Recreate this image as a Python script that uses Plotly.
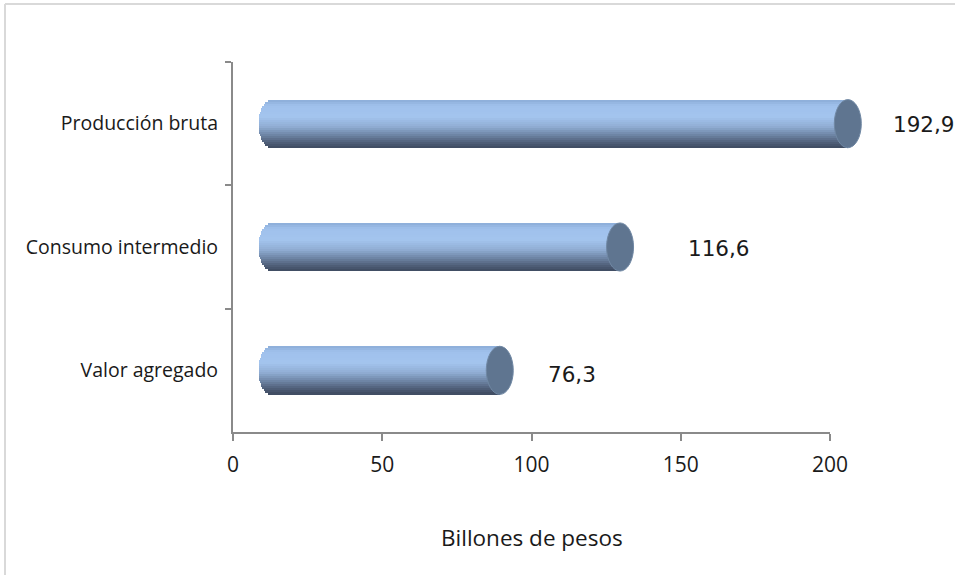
import numpy as np
import plotly.graph_objects as go

# ---- data ----
categories = ["Producción bruta", "Consumo intermedio", "Valor agregado"]
values = [192.9, 116.6, 76.3]
value_labels = ["192,9", "116,6", "76,3"]
x_tick_vals = [0, 50, 100, 150, 200]
x_tick_text = ["0", "50", "100", "150", "200"]
axis_title = "Billones de pesos"

# ---- style ----
W, H = 955, 575
ML, MR, MT, MB = 233, 0, 62, 143
axis_right_px = 830                      # where the value axis ends
x_range = [0, 200]
plot_w = W - ML - MR
axis_w = axis_right_px - ML
px_per_unit = axis_w / (x_range[1] - x_range[0])
depth_px = 39                            # 3D depth offset of the cylinders
depth_units = depth_px / px_per_unit
bar_range0 = x_range[0] - depth_units
bar_range1 = bar_range0 + plot_w / px_per_unit
bar_half = 0.195                         # half thickness in category units
cap_half_px = 13.5
cap_half = cap_half_px / px_per_unit
label_xshift = [43, 66, 46]
label_yshift = [-1, -1, -4]
FONT = "Open Sans"
LABEL_FONT = "DejaVu Sans"
TXT = "#1a1a1a"
AX = "#8a8a8a"

# gradient stops (top -> bottom)
stops = [(0.00, (140, 172, 216)), (0.12, (160, 193, 236)), (0.35, (163, 196, 238)),
         (0.55, (145, 174, 212)), (0.72, (112, 135, 168)), (0.88, (80, 96, 122)),
         (1.00, (62, 74, 95))]


def grad(t):
    for (a, ca), (b, cb) in zip(stops[:-1], stops[1:]):
        if a <= t <= b:
            f = (t - a) / (b - a)
            c = [int(round(ca[k] + (cb[k] - ca[k]) * f)) for k in range(3)]
            return "rgb(%d,%d,%d)" % tuple(c)
    return "rgb(%d,%d,%d)" % stops[-1][1]


fig = go.Figure()
N = 24
slice_w = 2 * bar_half / N
for k in range(N):
    tmid = -1 + (k + 0.5) * 2 / N
    round_in = cap_half * np.sqrt(max(0.0, 1 - tmid ** 2))
    bases = [-round_in for _ in values]
    lengths = [v + round_in for v in values]
    fig.add_trace(go.Bar(
        y=categories, x=lengths, base=bases, orientation="h",
        xaxis="x", yaxis="y",
        width=slice_w * 1.08, offset=-bar_half + k * slice_w,
        marker=dict(color=grad((k + 0.5) / N), line=dict(width=0)),
        hoverinfo="skip", showlegend=False,
    ))

# invisible trace so that the value axis (x2) is drawn
fig.add_trace(go.Scatter(x=values, y=categories, xaxis="x2", yaxis="y",
                         mode="markers", marker=dict(opacity=0),
                         hoverinfo="skip", showlegend=False))

shapes = []
for i, v in enumerate(values):
    shapes.append(dict(type="circle", xref="x", yref="y",
                       x0=v - cap_half, x1=v + cap_half,
                       y0=i - bar_half, y1=i + bar_half,
                       fillcolor="#5f7590", line=dict(color="#7088a4", width=1),
                       layer="above"))
# chart frame (Excel style border)
ph = H - MT - MB
fx0 = (5 - ML) / plot_w
fy0 = (H - MB - 4) / ph
shapes.append(dict(type="line", xref="paper", yref="paper",
                   x0=fx0, x1=(W + 5 - ML) / plot_w, y0=fy0, y1=fy0,
                   line=dict(color="#d9d9d9", width=2)))
shapes.append(dict(type="line", xref="paper", yref="paper",
                   x0=fx0, x1=fx0, y0=fy0, y1=-MB / ph - 0.1,
                   line=dict(color="#d9d9d9", width=2)))

annotations = []
for i, (v, lab) in enumerate(zip(values, value_labels)):
    annotations.append(dict(xref="x", yref="y", x=v, y=i, text=lab,
                            showarrow=False, xanchor="left", yanchor="middle",
                            xshift=label_xshift[i], yshift=label_yshift[i],
                            font=dict(family=LABEL_FONT, size=21.5, color=TXT)))
annotations.append(dict(xref="paper", yref="paper", x=(axis_w / 2) / plot_w, y=0,
                        text=axis_title, showarrow=False,
                        xanchor="center", yanchor="middle",
                        yshift=-105, font=dict(family=FONT, size=22.5, color=TXT)))

fig.update_layout(
    width=W, height=H, autosize=False,
    margin=dict(l=ML, r=MR, t=MT, b=MB, pad=0, autoexpand=False),
    paper_bgcolor="white", plot_bgcolor="rgba(0,0,0,0)",
    barmode="overlay", bargap=0,
    font=dict(family=FONT, color=TXT),
    xaxis=dict(range=[bar_range0, bar_range1], domain=[0, 1], visible=False,
               fixedrange=True),
    xaxis2=dict(range=x_range, domain=[0, axis_w / plot_w], anchor="y",
                tickvals=x_tick_vals, ticktext=x_tick_text,
                showgrid=False, zeroline=False, showline=True, linecolor=AX, linewidth=2,
                ticks="outside", ticklen=7, tickcolor=AX, tickwidth=1.5,
                ticklabelstandoff=6,
                tickfont=dict(family=FONT, size=21, color=TXT), fixedrange=True),
    yaxis=dict(type="category", categoryorder="array", categoryarray=categories,
               autorange="reversed", tickson="boundaries", anchor="x",
               showgrid=False, zeroline=False, showline=True, linecolor=AX, linewidth=2,
               ticks="outside", ticklen=6, tickcolor=AX, tickwidth=1.5,
               ticklabelstandoff=9,
               tickfont=dict(family=FONT, size=19.5, color=TXT), fixedrange=True),
    shapes=shapes, annotations=annotations,
)

fig.write_html(
    "out.html",
    config={"responsive": False, "displayModeBar": False},
    post_script=("document.documentElement.style.overflow='hidden';"
                 "document.body.style.overflow='hidden';"
                 "document.body.style.margin='0';"),
)
